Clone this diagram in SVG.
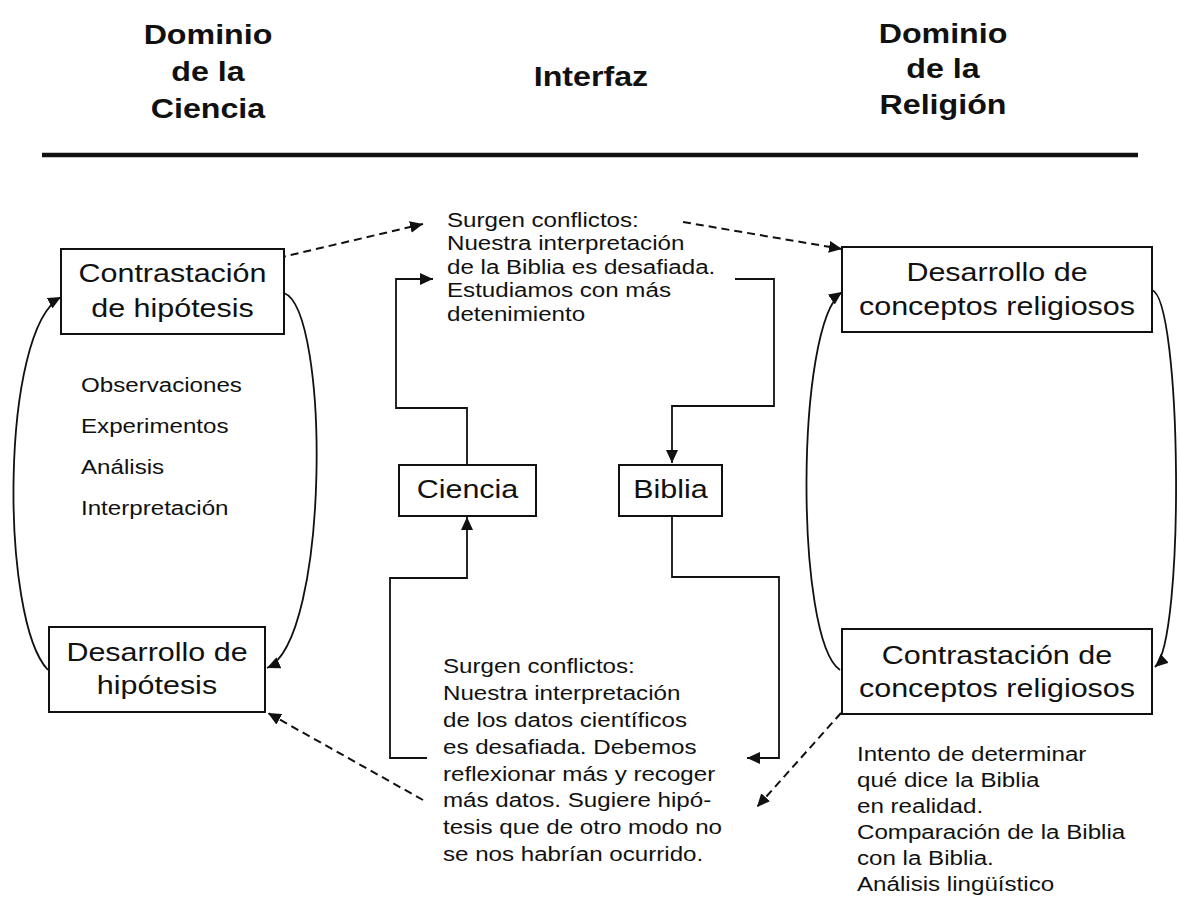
<svg xmlns="http://www.w3.org/2000/svg" width="1180" height="902" viewBox="0 0 1180 902">
<style>
text { font-family: "Liberation Sans", Arial, sans-serif; fill: #111; transform-box: fill-box; transform: scaleX(1.15); }
.h { font-size: 28px; font-weight: bold; text-anchor: middle; transform-origin: center; }
.b { font-size: 26.5px; text-anchor: middle; transform-origin: center; }
.t { font-size: 21px; transform-origin: left center; }
.box { fill: #fff; stroke: #111; stroke-width: 2; }
.ln { fill: none; stroke: #111; stroke-width: 1.8; }
.dash { fill: none; stroke: #111; stroke-width: 2; stroke-dasharray: 8 5; }
</style>
<defs>
<marker id="ah" markerUnits="userSpaceOnUse" markerWidth="14" markerHeight="12" refX="13" refY="6" orient="auto">
<path d="M0,0 L13,6 L0,12 Z" fill="#111"/>
</marker>
</defs>
<rect width="1180" height="902" fill="#fff"/>

<g id="header">
<text class="h" x="208" y="44">Dominio</text>
<text class="h" x="208" y="81">de la</text>
<text class="h" x="208" y="118">Ciencia</text>
<text class="h" x="591" y="86">Interfaz</text>
<text class="h" x="943" y="43">Dominio</text>
<text class="h" x="943" y="78">de la</text>
<text class="h" x="943" y="114">Religión</text>
<line x1="42" y1="155" x2="1138" y2="155" stroke="#111" stroke-width="4.5"/>
</g>

<g id="connectors">
<path class="dash" d="M278,258 L423,224" marker-end="url(#ah)"/>
<path class="dash" d="M683,222 L842,249" marker-end="url(#ah)"/>
<path class="dash" d="M423,800 L268,713" marker-end="url(#ah)"/>
<path class="dash" d="M841,713 L757,807" marker-end="url(#ah)"/>
<path class="ln" d="M48,670 C0,620 0,330 61,297" marker-end="url(#ah)"/>
<path class="ln" d="M284,293 C330,310 330,640 267,668" marker-end="url(#ah)"/>
<path class="ln" d="M840,670 C795,640 795,325 842,292" marker-end="url(#ah)"/>
<path class="ln" d="M1152,290 C1182,300 1185,640 1155,667" marker-end="url(#ah)"/>
<path class="ln" d="M467,465 L467,408 L396,408 L396,279 L433,279" marker-end="url(#ah)"/>
<path class="ln" d="M735,279 L774,279 L774,406 L672,406 L672,463" marker-end="url(#ah)"/>
<path class="ln" d="M427,758 L390,758 L390,578 L467,578 L467,517" marker-end="url(#ah)"/>
<path class="ln" d="M672,516 L672,577 L779,577 L779,758 L747,758" marker-end="url(#ah)"/>
</g>

<g id="contrastacion-hipotesis">
<rect class="box" x="61" y="249" width="223" height="85"/>
<text class="b" x="172.5" y="282">Contrastación</text>
<text class="b" x="172.5" y="317">de hipótesis</text>
</g>

<g id="lista-ciencia">
<text class="t" x="81" y="392">Observaciones</text>
<text class="t" x="81" y="433">Experimentos</text>
<text class="t" x="81" y="474">Análisis</text>
<text class="t" x="81" y="515">Interpretación</text>
</g>

<g id="desarrollo-hipotesis">
<rect class="box" x="49" y="627" width="216" height="85"/>
<text class="b" x="157" y="661">Desarrollo de</text>
<text class="b" x="157" y="694">hipótesis</text>
</g>

<g id="desarrollo-conceptos">
<rect class="box" x="842" y="247" width="310" height="85"/>
<text class="b" x="997" y="281">Desarrollo de</text>
<text class="b" x="997" y="315">conceptos religiosos</text>
</g>

<g id="contrastacion-conceptos">
<rect class="box" x="842" y="629" width="310" height="85"/>
<text class="b" x="997" y="664">Contrastación de</text>
<text class="b" x="997" y="697">conceptos religiosos</text>
</g>

<g id="ciencia">
<rect class="box" x="399" y="465" width="137" height="51"/>
<text class="b" x="467.5" y="498">Ciencia</text>
</g>

<g id="biblia">
<rect class="box" x="619" y="465" width="103" height="51"/>
<text class="b" x="670.5" y="498">Biblia</text>
</g>

<g id="conflicto-biblia">
<text class="t" x="447" y="227">Surgen conflictos:</text>
<text class="t" x="447" y="250.5">Nuestra interpretación</text>
<text class="t" x="447" y="274">de la Biblia es desafiada.</text>
<text class="t" x="447" y="297.5">Estudiamos con más</text>
<text class="t" x="447" y="321">detenimiento</text>
</g>

<g id="conflicto-ciencia">
<text class="t" x="443" y="673">Surgen conflictos:</text>
<text class="t" x="443" y="700">Nuestra interpretación</text>
<text class="t" x="443" y="727">de los datos científicos</text>
<text class="t" x="443" y="754">es desafiada. Debemos</text>
<text class="t" x="443" y="781">reflexionar más y recoger</text>
<text class="t" x="443" y="807">más datos. Sugiere hipó-</text>
<text class="t" x="443" y="834">tesis que de otro modo no</text>
<text class="t" x="443" y="861">se nos habrían ocurrido.</text>
</g>

<g id="analisis-biblia">
<text class="t" x="857" y="761">Intento de determinar</text>
<text class="t" x="857" y="787">qué dice la Biblia</text>
<text class="t" x="857" y="813">en realidad.</text>
<text class="t" x="857" y="839">Comparación de la Biblia</text>
<text class="t" x="857" y="865">con la Biblia.</text>
<text class="t" x="857" y="891">Análisis lingüístico</text>
</g>
</svg>
